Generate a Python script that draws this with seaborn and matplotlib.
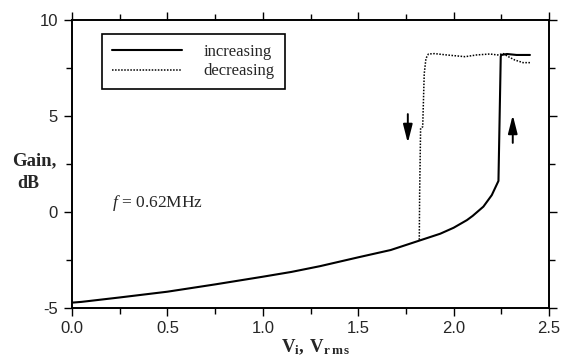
import matplotlib
matplotlib.use("Agg")
import matplotlib.pyplot as plt
import seaborn as sns
import pandas as pd
from matplotlib.ticker import MultipleLocator

# ---- data ----
inc_x = [0.0, 0.05, 0.25, 0.5, 0.75, 1.0, 1.15, 1.3, 1.5, 1.67, 1.82, 1.93, 2.0, 2.07, 2.1, 2.156, 2.2, 2.235,
         2.247, 2.25, 2.28, 2.33, 2.40]
inc_y = [-4.72, -4.68, -4.45, -4.15, -3.77, -3.37, -3.12, -2.82, -2.36, -1.98, -1.49, -1.13, -0.82, -0.42, -0.2,
         0.28, 0.88, 1.62, 8.1, 8.18, 8.23, 8.18, 8.18]

dec_x = [2.40, 2.364, 2.32, 2.287, 2.26, 2.23, 2.19, 2.12, 2.06, 1.964, 1.90, 1.868, 1.855, 1.846, 1.838, 1.827, 1.822, 1.82]
dec_y = [7.78, 7.78, 7.92, 8.09, 8.25, 8.18, 8.23, 8.18, 8.09, 8.18, 8.25, 8.23, 8.0, 7.2, 4.44, 4.37, 1.0, -1.51]

series_names = ["increasing", "decreasing"]
x_ticks = [0.0, 0.5, 1.0, 1.5, 2.0, 2.5]
y_ticks = [-5, 0, 5, 10]
freq_label = "0.62MHz"

# arrows: (x, y_start, y_end)
arrow_down = (1.76, 5.1, 3.6)
arrow_up = (2.31, 3.6, 5.05)

df = pd.concat([
    pd.DataFrame({"V": inc_x, "Gain": inc_y, "dir": series_names[0]}),
    pd.DataFrame({"V": dec_x, "Gain": dec_y, "dir": series_names[1]}),
], ignore_index=True)

sns.set_style("ticks")
plt.rcParams["font.family"] = ["Liberation Sans", "DejaVu Sans"]
plt.rcParams["mathtext.fontset"] = "custom"
plt.rcParams["mathtext.rm"] = "Liberation Serif"
plt.rcParams["mathtext.it"] = "Liberation Serif:italic"
plt.rcParams["mathtext.bf"] = "Liberation Serif:bold"

fig = plt.figure(figsize=(5.62, 3.6), dpi=100)
ax = fig.add_axes([0.1281, 0.1444, 0.8488, 0.8])

sns.lineplot(data=df, x="V", y="Gain", hue="dir", style="dir",
             hue_order=series_names, style_order=series_names,
             palette=["black", "black"],
             dashes={"increasing": "", "decreasing": (1, 1)},
             sort=False, estimator=None, units="dir",
             linewidth=1.5, ax=ax, legend=False)
ax.lines[1].set_linewidth(1.1)

ax.set_xlim(0, 2.5)
ax.set_ylim(-5, 10)
ax.set_xticks(x_ticks)
ax.set_xticklabels([f"{v:.1f}" for v in x_ticks])
ax.set_yticks(y_ticks)
ax.set_yticklabels([str(v) for v in y_ticks])
ax.xaxis.set_minor_locator(MultipleLocator(0.25))
ax.yaxis.set_minor_locator(MultipleLocator(2.5))
ax.tick_params(which="both", direction="out", top=True, right=True,
               labeltop=False, labelright=False, color="black", width=1.0)
ax.tick_params(which="major", length=6, labelsize=12)
ax.tick_params(axis="x", which="major", pad=3)
ax.tick_params(axis="y", which="major", pad=4)
ax.tick_params(which="minor", length=4)
for s in ax.spines.values():
    s.set_visible(True)
    s.set_linewidth(1.4)
    s.set_color("black")

ax.set_xlabel(r"$\mathbf{V_{i},\;V_{r\,m\,s}}$", fontsize=13.5)
ax.xaxis.set_label_coords(0.51, -0.135)
ax.xaxis.label.set_va("center")
ax.set_ylabel("")

fig.text(12 / 562, 1 - 161 / 360, "Gain,", family="Liberation Serif",
         fontweight="bold", fontsize=13.5, ha="left", va="center")
fig.text(17 / 562, 1 - 183 / 360, "dB", family="Liberation Serif",
         fontweight="bold", fontsize=13, ha="left", va="center")

ax.text(0.21, 0.47, r"$f$ = " + freq_label, family="Liberation Serif",
        fontsize=12.5, ha="left", va="center")

for (xa, y0, y1) in (arrow_down, arrow_up):
    ax.annotate("", xy=(xa, y1), xytext=(xa, y0),
                arrowprops=dict(arrowstyle="-|>,head_length=1.1,head_width=0.28",
                                color="black", lw=1.4, shrinkA=0, shrinkB=0))

handles = [plt.Line2D([], [], color="black", lw=1.5),
           plt.Line2D([], [], color="black", lw=1.1, ls=(0, (1, 1)))]
leg = ax.legend(handles, series_names, loc="upper left",
                bbox_to_anchor=(0.063, 0.951), prop={"family": "Liberation Serif", "size": 12},
                frameon=True, fancybox=False, shadow=False, borderaxespad=0,
                handlelength=4.2, handletextpad=1.3, labelspacing=0.2,
                borderpad=0.6)
leg.get_frame().set_edgecolor("black")
leg.get_frame().set_linewidth(1.2)
leg.get_frame().set_alpha(1)

fig.savefig("out.png", dpi=100)
